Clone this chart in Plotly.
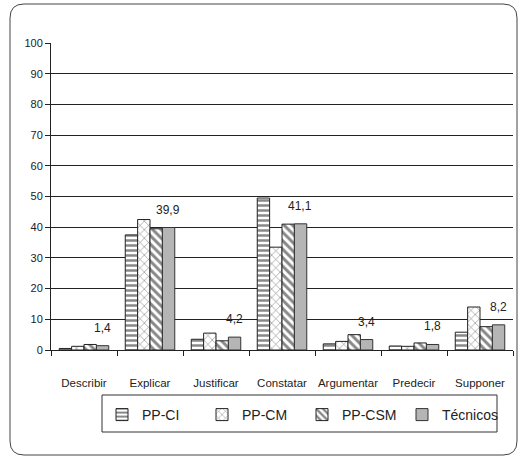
import plotly.graph_objects as go

categories = ["Describir", "Explicar", "Justificar", "Constatar", "Argumentar", "Predecir", "Supponer"]
pp_ci = [0.5, 37.5, 3.5, 49.5, 2.0, 1.3, 5.8]
pp_cm = [1.2, 42.5, 5.5, 33.5, 2.8, 1.2, 14.0]
pp_csm = [1.8, 39.5, 3.0, 41.0, 5.0, 2.3, 7.6]
tecnicos = [1.4, 39.9, 4.2, 41.1, 3.4, 1.8, 8.2]
y_ticks = [0, 10, 20, 30, 40, 50, 60, 70, 80, 90, 100]

FONT = "Liberation Sans, Arial"
W, H = 523, 457
L, R, T, B = 51, 10, 43, 107

fig = go.Figure()
styles = [
    ("PP-CI", pp_ci, dict(shape="-", size=5, solidity=0.5, fgcolor="#111", bgcolor="white")),
    ("PP-CM", pp_cm, dict(shape="x", size=6, solidity=0.2, fgcolor="#111", bgcolor="white")),
    ("PP-CSM", pp_csm, dict(shape="\\", size=6, solidity=0.5, fgcolor="#111", bgcolor="white")),
]
for name, vals, pat in styles:
    fig.add_trace(go.Bar(name=name, x=categories, y=vals,
                         marker=dict(color="white", pattern=pat,
                                     line=dict(color="#222", width=1))))
fig.add_trace(go.Bar(name="Técnicos", x=categories, y=tecnicos,
                     marker=dict(color="#b5b5b5", line=dict(color="#333", width=1))))

cat_w = (W - L - R) / len(categories)
for c, v in zip(categories, tecnicos):
    fig.add_annotation(x=c, y=v, xref="x", yref="y", text=f"{v:.1f}".replace(".", ","),
                       showarrow=False, yanchor="bottom", xshift=0.28 * cat_w, yshift=9,
                       font=dict(family=FONT, size=12, color="#222"))

def px(xp):
    return (xp - L) / (W - L - R)
def py(yp):
    return (H - B - yp) / (H - T - B)

# rounded outer frame
x0, x1, y0, y1, r = 10, 517, 4, 455, 14
path = (f"M {px(x0 + r)},{py(y0)} L {px(x1 - r)},{py(y0)} Q {px(x1)},{py(y0)} {px(x1)},{py(y0 + r)} "
        f"L {px(x1)},{py(y1 - r)} Q {px(x1)},{py(y1)} {px(x1 - r)},{py(y1)} "
        f"L {px(x0 + r)},{py(y1)} Q {px(x0)},{py(y1)} {px(x0)},{py(y1 - r)} "
        f"L {px(x0)},{py(y0 + r)} Q {px(x0)},{py(y0)} {px(x0 + r)},{py(y0)} Z")
fig.add_shape(type="path", path=path, xref="paper", yref="paper",
              line=dict(color="#444", width=1))
# legend box
fig.add_shape(type="rect", xref="paper", yref="paper",
              x0=px(102), x1=px(497), y0=py(395), y1=py(432),
              line=dict(color="#333", width=1))

fig.update_layout(
    width=W, height=H,
    margin=dict(l=L, r=R, t=T, b=B, autoexpand=False),
    paper_bgcolor="white", plot_bgcolor="white",
    barmode="group", bargap=0.25, bargroupgap=0,
    font=dict(family=FONT, size=12, color="#222"),
    showlegend=True,
    legend=dict(orientation="h", xref="container", yref="container",
                x=102 / W, xanchor="left",
                y=1 - 399 / H, yanchor="top",
                borderwidth=0, bgcolor="rgba(0,0,0,0)",
                entrywidth=55, itemwidth=30,
                font=dict(family=FONT, size=14, color="#222"),
                traceorder="normal"),
)
fig.update_xaxes(showline=True, linecolor="#222", linewidth=1, ticks="outside",
                 tickson="boundaries", ticklen=5, tickcolor="#222", tickangle=0,
                 tickfont=dict(family=FONT, size=11.5, color="#222"),
                 ticklabelstandoff=22, showgrid=False)
fig.update_yaxes(range=[0, 100], tickvals=y_ticks, showline=True, linecolor="#222", linewidth=1,
                 ticks="outside", ticklen=5, tickcolor="#222", showgrid=True,
                 gridcolor="#222", gridwidth=1, zeroline=False,
                 tickfont=dict(family=FONT, size=11, color="#222"))

fig.write_html("out.html", config={"displayModeBar": False},
               post_script="document.body.style.margin='0';")
